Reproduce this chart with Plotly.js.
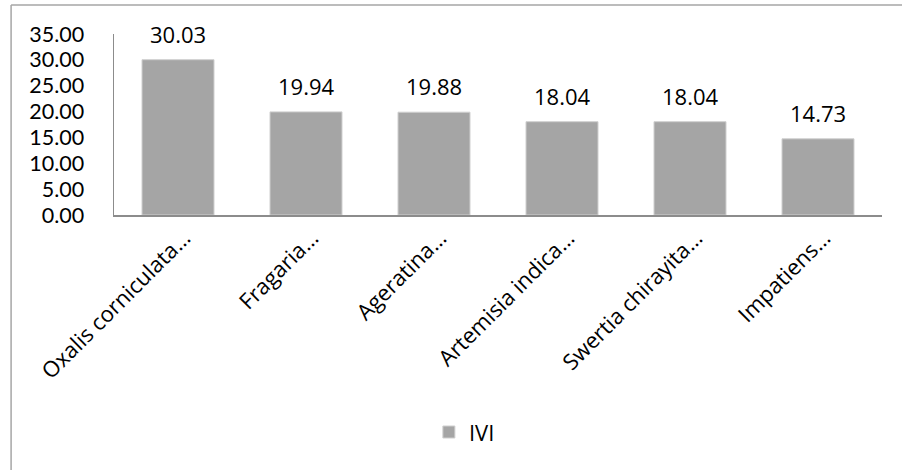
<!DOCTYPE html>
<html>
<head>
<meta charset="utf-8">
<script src="https://cdn.plot.ly/plotly-3.0.1.min.js"></script>
<style>
  html, body { margin: 0; padding: 0; background: #ffffff; }
  #chart { width: 902px; height: 470px; }
</style>
</head>
<body>
<div id="chart"></div>
<script>
// Species and their importance value index (IVI)
const species = [
  "Oxalis corniculata…",
  "Fragaria…",
  "Ageratina…",
  "Artemisia indica…",
  "Swertia chirayita…",
  "Impatiens…"
];
const ivi = [30.03, 19.94, 19.88, 18.04, 18.04, 14.73];
const seriesName = "IVI";
const yTicks = [0, 5, 10, 15, 20, 25, 30, 35];

const FONT = "'Open Sans', Lato, sans-serif";
const FONT_SIZE = 22;
// the value axis labels are packed tightly, so they use a font with a shorter line box
const Y_FONT = "Lato, 'Open Sans', sans-serif";
const Y_FONT_SIZE = 21.5;
const AXIS_GREY = "#8c8c8c";

const trace = {
  type: "bar",
  name: seriesName,
  x: species,
  y: ivi,
  width: 0.5625,
  marker: { color: "#a5a5a5", line: { color: "#cfcfcf", width: 1 } },
  hoverinfo: "skip",
  showlegend: true
};

// Value labels sitting above each bar
const labels = species.map((s, i) => ({
  x: s,
  y: ivi[i],
  xref: "x",
  yref: "y",
  text: ivi[i].toFixed(2),
  showarrow: false,
  yanchor: "middle",
  yshift: 26,
  font: { family: FONT, size: FONT_SIZE, color: "#000000" }
}));

const layout = {
  width: 902,
  height: 470,
  paper_bgcolor: "#ffffff",
  plot_bgcolor: "#ffffff",
  margin: { l: 114, r: 20, t: 34, b: 255, pad: 0 },
  font: { family: FONT, size: FONT_SIZE, color: "#000000" },
  bargap: 0.4375,
  xaxis: {
    type: "category",
    showline: true,
    linecolor: AXIS_GREY,
    linewidth: 1.5,
    showgrid: false,
    zeroline: false,
    ticks: "",
    tickangle: -45,
    ticklabelshift: 6,
    tickfont: { family: FONT, size: FONT_SIZE, color: "#000000" },
    automargin: false
  },
  yaxis: {
    range: [0, 35],
    tickvals: yTicks,
    ticktext: yTicks.map(v => v.toFixed(2)),
    showline: true,
    linecolor: AXIS_GREY,
    linewidth: 1.5,
    showgrid: false,
    zeroline: false,
    ticks: "",
    ticklabelstandoff: 24,
    tickfont: { family: Y_FONT, size: Y_FONT_SIZE, color: "#000000" },
    automargin: false
  },
  showlegend: true,
  legend: {
    orientation: "h",
    x: 0.41,
    xanchor: "left",
    y: -1.2,
    yanchor: "middle",
    itemwidth: 30,
    font: { family: FONT, size: FONT_SIZE, color: "#000000" },
    bgcolor: "rgba(0,0,0,0)"
  },
  annotations: labels,
  shapes: [
    // chart frame (top and left edges)
    { type: "line", xref: "paper", yref: "paper", x0: -0.134, x1: 1.1, y0: 1.16, y1: 1.16,
      line: { color: "#a6a6a6", width: 1.5 } },
    { type: "line", xref: "paper", yref: "paper", x0: -0.134, x1: -0.134, y0: 1.16, y1: -1.5,
      line: { color: "#a6a6a6", width: 1.5 } }
  ]
};

Plotly.newPlot("chart", [trace], layout, { displayModeBar: false, staticPlot: true });
</script>
</body>
</html>
